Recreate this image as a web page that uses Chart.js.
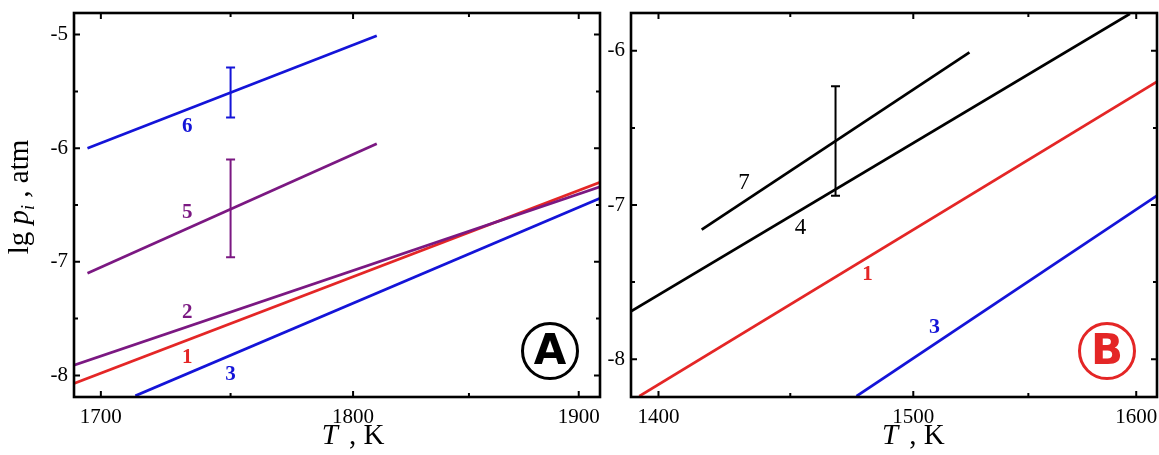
<!DOCTYPE html>
<html>
<head>
<meta charset="utf-8">
<script src="https://cdn.jsdelivr.net/npm/chart.js@4.4.0/dist/chart.umd.min.js"></script>
<style>
  html, body { margin: 0; padding: 0; background: #fff; }
  #wrap { position: relative; width: 1159px; height: 455px; }
  canvas { position: absolute; top: 0; }
  #chartA { left: 0; }
  #chartB { left: 604px; }
</style>
</head>
<body>
<div id="wrap">
  <canvas id="chartA" width="604" height="455"></canvas>
  <canvas id="chartB" width="555" height="455"></canvas>
</div>
<script>
// ===== Panel A: line end points (T in K, lg p in atm) =====
const a6T = [1695, 1810], a6P = [-6.00, -5.01];
const a5T = [1695, 1810], a5P = [-7.10, -5.96];
const a2T = [1690, 1910], a2P = [-7.91, -6.34];
const a1T = [1690, 1910], a1P = [-8.07, -6.30];
const a3T = [1713, 1910], a3P = [-8.18, -6.44];

// error bars (curves 6 and 5)
const aErrT = [1750, 1750];
const aErrLo = [-5.73, -6.96];
const aErrHi = [-5.29, -6.10];

// curve numbers
const aLabText = ["6", "5", "2", "1", "3"];
const aLabT = [1733, 1733, 1733, 1733, 1750];
const aLabP = [-5.81, -6.57, -7.45, -7.84, -7.99];

const aTicksT = [1700, 1750, 1800, 1850, 1900];
const aTicksP = [-8, -7.5, -7, -6.5, -6, -5.5, -5];

// ===== Panel B =====
const b4T = [1390, 1597], b4P = [-7.69, -5.76];
const b7T = [1416, 1524], b7P = [-7.16, -6.01];
const b1T = [1393, 1610], b1P = [-8.24, -6.20];
const b3T = [1476.5, 1610], b3P = [-8.24, -6.94];

// error bar on curve 7
const bErrT = [1468];
const bErrLo = [-6.94];
const bErrHi = [-6.23];

const bLabText = ["7", "4", "1", "3"];
const bLabT = [1432, 1454, 1481, 1509];
const bLabP = [-6.86, -7.15, -7.45, -7.79];

const bTicksT = [1400, 1450, 1500, 1550, 1600];
const bTicksP = [-8, -7.5, -7, -6.5, -6];

const BLUE = "#1414d8", PURPLE = "#7b1882", RED = "#e42626", BLACK = "#000000";
const SERIF = '"Liberation Serif", "Times New Roman", serif';

// x axis is linear in 10^4/T, labelled in T
const inv = T => 1e4 / T;
const pts = (ts, ps) => ts.map((t, i) => ({ x: inv(t), y: ps[i] }));

function line(ts, ps, color) {
  return { data: pts(ts, ps), borderColor: color, borderWidth: 2.7, pointRadius: 0, tension: 0, fill: false };
}

// frame, inward ticks, error bars, curve numbers, badge, axis titles
const panelDecor = {
  id: "panelDecor",
  afterDatasetsDraw(chart, args, o) {
    const ctx = chart.ctx;
    const xs = chart.scales.x, ys = chart.scales.y;
    const { left, right, top, bottom } = chart.chartArea;
    ctx.save();

    // error bars
    ctx.lineWidth = 2;
    o.errT.forEach((t, i) => {
      const x = xs.getPixelForValue(inv(t));
      const y1 = ys.getPixelForValue(o.errLo[i]);
      const y2 = ys.getPixelForValue(o.errHi[i]);
      ctx.strokeStyle = o.errColor[i];
      ctx.beginPath();
      ctx.moveTo(x, y1); ctx.lineTo(x, y2);
      ctx.moveTo(x - 4.5, y1); ctx.lineTo(x + 4.5, y1);
      ctx.moveTo(x - 4.5, y2); ctx.lineTo(x + 4.5, y2);
      ctx.stroke();
    });

    // curve numbers
    ctx.textAlign = "center";
    ctx.textBaseline = "middle";
    o.labText.forEach((txt, i) => {
      ctx.font = o.labFont[i];
      ctx.fillStyle = o.labColor[i];
      ctx.fillText(txt, xs.getPixelForValue(inv(o.labT[i])), ys.getPixelForValue(o.labP[i]));
    });

    // frame
    ctx.strokeStyle = BLACK;
    ctx.lineWidth = 2.6;
    ctx.strokeRect(left, top, right - left, bottom - top);

    // inward ticks on all four sides
    ctx.lineWidth = 2;
    xs.ticks.forEach(tk => {
      const x = xs.getPixelForValue(tk.value);
      const len = tk.label ? 6 : 4;
      ctx.beginPath();
      ctx.moveTo(x, bottom); ctx.lineTo(x, bottom - len);
      ctx.moveTo(x, top); ctx.lineTo(x, top + len);
      ctx.stroke();
    });
    ys.ticks.forEach(tk => {
      const y = ys.getPixelForValue(tk.value);
      const len = tk.label ? 6 : 4;
      ctx.beginPath();
      ctx.moveTo(left, y); ctx.lineTo(left + len, y);
      ctx.moveTo(right, y); ctx.lineTo(right - len, y);
      ctx.stroke();
    });

    // badge
    const cx = right - 50, cy = bottom - 46;
    ctx.strokeStyle = o.badgeColor;
    ctx.lineWidth = 3;
    ctx.beginPath();
    ctx.arc(cx, cy, 27.5, 0, Math.PI * 2);
    ctx.stroke();
    ctx.fillStyle = o.badgeColor;
    ctx.font = 'bold 42px "DejaVu Sans", sans-serif';
    ctx.textAlign = "center";
    ctx.textBaseline = "middle";
    ctx.fillText(o.badge, cx, cy + 2);

    // x title "T , K" under the middle labelled tick
    const mid = xs.getPixelForValue(inv(o.titleT));
    ctx.fillStyle = BLACK;
    ctx.textBaseline = "alphabetic";
    ctx.textAlign = "left";
    ctx.font = "italic 29px " + SERIF;
    const wT = ctx.measureText("T").width + 4;
    ctx.font = "29px " + SERIF;
    const wR = ctx.measureText(" , K").width;
    const x0 = mid - (wT + wR) / 2;
    ctx.font = "italic 29px " + SERIF;
    ctx.fillText("T", x0, 444);
    ctx.font = "29px " + SERIF;
    ctx.fillText(" , K", x0 + wT, 444);

    // y title "lg p_i , atm"
    if (o.yTitle) {
      ctx.translate(28, 197);
      ctx.rotate(-Math.PI / 2);
      const parts = [
        { t: "lg ", f: "29px " + SERIF, dy: 0 },
        { t: "p", f: "italic 29px " + SERIF, dy: 0 },
        { t: "i", f: "italic 18px " + SERIF, dy: 6 },
        { t: " , atm", f: "29px " + SERIF, dy: 0 },
      ];
      let w = 0;
      parts.forEach(p => { ctx.font = p.f; p.w = ctx.measureText(p.t).width; w += p.w; });
      let x = -w / 2;
      parts.forEach(p => { ctx.font = p.f; ctx.fillText(p.t, x, p.dy); x += p.w; });
    }
    ctx.restore();
  },
};

// keep the plot box exactly where the layout padding puts it
function noLabelPadding(s) {
  s.paddingLeft = 0; s.paddingRight = 0; s.paddingTop = 0; s.paddingBottom = 0;
}

function makePanel(id, cfg) {
  return new Chart(document.getElementById(id), {
    type: "line",
    data: { datasets: cfg.datasets },
    options: {
      responsive: false,
      animation: false,
      events: [],
      layout: { padding: { top: 13, right: cfg.padRight, left: 0, bottom: 0 } },
      plugins: { legend: { display: false }, tooltip: { enabled: false }, panelDecor: cfg.decor },
      scales: {
        x: {
          type: "linear",
          reverse: true,
          min: inv(cfg.tMax),
          max: inv(cfg.tMin),
          afterBuildTicks: s => { s.ticks = cfg.ticksT.map(t => ({ value: inv(t) })); },
          afterFit: s => { s.height = 58; noLabelPadding(s); },
          grid: { display: false, drawTicks: false },
          border: { display: false },
          ticks: {
            autoSkip: false,
            maxRotation: 0,
            padding: 8,
            color: BLACK,
            font: { family: SERIF, size: 21 },
            callback: v => { const T = Math.round(1e4 / v); return T % 100 === 0 ? String(T) : ""; },
          },
        },
        y: {
          type: "linear",
          min: cfg.pMin,
          max: cfg.pMax,
          afterBuildTicks: s => { s.ticks = cfg.ticksP.map(v => ({ value: v })); },
          afterFit: s => { s.width = cfg.yWidth; noLabelPadding(s); },
          grid: { display: false, drawTicks: false },
          border: { display: false },
          ticks: {
            autoSkip: false,
            padding: 6,
            color: BLACK,
            font: { family: SERIF, size: 21 },
            callback: v => (Number.isInteger(v) ? String(v) : ""),
          },
        },
      },
    },
    plugins: [panelDecor],
  });
}

makePanel("chartA", {
  tMin: 1690, tMax: 1910, pMin: -8.19, pMax: -4.81,
  ticksT: aTicksT, ticksP: aTicksP, yWidth: 74, padRight: 4,
  datasets: [
    line(a2T, a2P, PURPLE),
    line(a1T, a1P, RED),
    line(a3T, a3P, BLUE),
    line(a5T, a5P, PURPLE),
    line(a6T, a6P, BLUE),
  ],
  decor: {
    errT: aErrT, errLo: aErrLo, errHi: aErrHi, errColor: [BLUE, PURPLE],
    labText: aLabText, labT: aLabT, labP: aLabP,
    labColor: [BLUE, PURPLE, PURPLE, RED, BLUE],
    labFont: aLabText.map(() => "bold 21px " + SERIF),
    badge: "A", badgeColor: BLACK, titleT: 1800, yTitle: true,
  },
});

makePanel("chartB", {
  tMin: 1390, tMax: 1610, pMin: -8.245, pMax: -5.755,
  ticksT: bTicksT, ticksP: bTicksP, yWidth: 27, padRight: 2,
  datasets: [
    line(b4T, b4P, BLACK),
    line(b7T, b7P, BLACK),
    line(b1T, b1P, RED),
    line(b3T, b3P, BLUE),
  ],
  decor: {
    errT: bErrT, errLo: bErrLo, errHi: bErrHi, errColor: [BLACK],
    labText: bLabText, labT: bLabT, labP: bLabP,
    labColor: [BLACK, BLACK, RED, BLUE],
    labFont: ["23px " + SERIF, "23px " + SERIF, "bold 21px " + SERIF, "bold 22px " + SERIF],
    badge: "B", badgeColor: RED, titleT: 1500, yTitle: false,
  },
});
</script>
</body>
</html>
